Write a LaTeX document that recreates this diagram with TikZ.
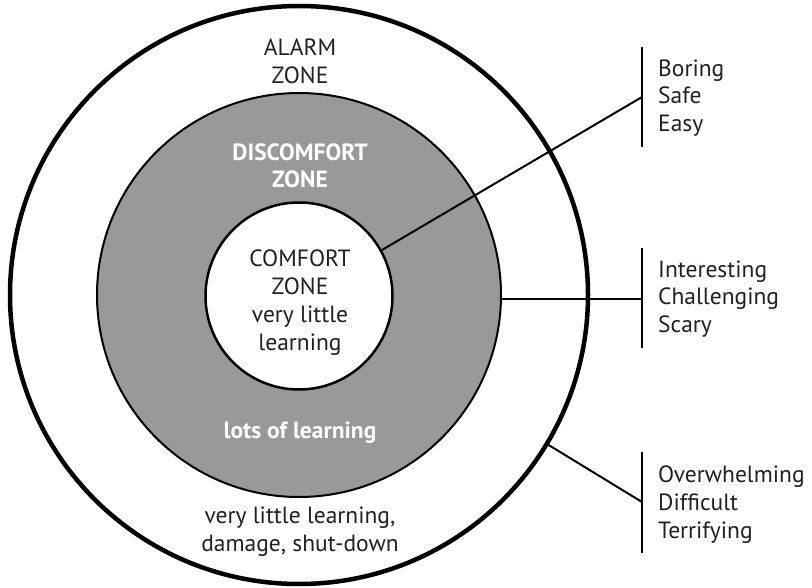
\documentclass[tikz,border=0pt]{standalone}
\usepackage{fontspec}
\setmainfont{PT Sans}
\definecolor{ink}{HTML}{231F20}
\definecolor{zonegray}{RGB}{153,153,153}
\begin{document}
\begin{tikzpicture}[x=1pt,y=-1pt,
  zone/.style={circle,inner sep=0pt,draw=black},
  label/.style={text=ink,align=center,anchor=base,inner sep=0pt,
    font=\fontsize{23.5}{27.8}\selectfont},
  boldlabel/.style={label,text=white,font=\fontsize{23.5}{27.8}\selectfont\bfseries},
  side/.style={text=ink,align=left,anchor=base west,inner sep=0pt,
    font=\fontsize{23.5}{27.8}\selectfont},
  bar/.style={line width=2pt,draw=black},
  link/.style={line width=2pt,draw=black}]
\useasboundingbox (0,0) rectangle (812,588);

% three nested zones
\node[zone,line width=4.5pt,fill=white,minimum size=578pt] (alarm) at (299,295) {};
\node[zone,line width=2pt,fill=zonegray,minimum size=404pt] (discomfort) at (299,295) {};
\node[zone,line width=2.5pt,fill=white,minimum size=187pt] (comfort) at (299,296) {};

% zone texts (anchored at the baseline of their last line)
\node[label] (alarmtxt) at (300,83.5) {ALARM\\ZONE};
\node[boldlabel] (disctxt) at (300,188) {DISCOMFORT\\ZONE};
\node[label] (comforttxt) at (300,350) {COMFORT\\ZONE\\very little\\learning};
\node[boldlabel] (lotstxt) at (300,438) {lots of learning};
\node[label] (damagetxt) at (300,551) {very little learning,\\damage, shut-down};

% brackets on the right
\coordinate (b1top) at (642,47);  \coordinate (b1bot) at (642,147); \coordinate (b1mid) at (642,97);
\coordinate (b2top) at (642,248); \coordinate (b2bot) at (642,348); \coordinate (b2mid) at (642,299);
\coordinate (b3top) at (642,452); \coordinate (b3bot) at (642,553); \coordinate (b3mid) at (642,502);
\draw[bar] (b1top) -- (b1bot);
\draw[bar] (b2top) -- (b2bot);
\draw[bar] (b3top) -- (b3bot);

\node[side] (easy) at (658,131.7) {Boring\\Safe\\Easy};
\node[side] (scary) at (658,332.7) {Interesting\\Challenging\\Scary};
\node[side] (terr) at (658,538) {Overwhelming\\Difficult\\Terrifying};

% connectors from each zone to its bracket
\draw[link] (comfort.29) -- (b1mid);
\draw[link] (b2mid -| discomfort.east) -- (b2mid);
\draw[link] (alarm.-31) -- (b3mid);
\end{tikzpicture}
\end{document}
